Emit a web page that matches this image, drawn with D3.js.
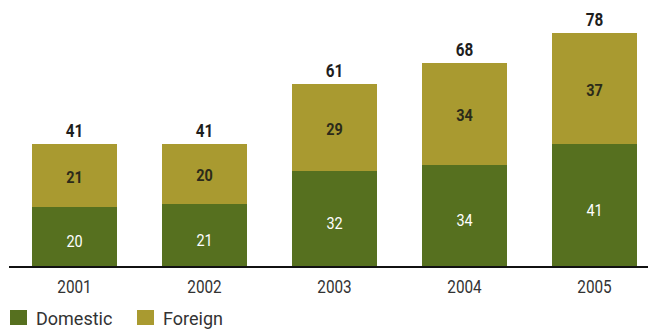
<!DOCTYPE html>
<html>
<head>
<meta charset="utf-8">
<script src="https://cdn.jsdelivr.net/npm/d3@7"></script>
<style>
    body { margin: 0; background: #fff; }
    svg text { font-family: Roboto, "Liberation Sans", sans-serif; }
</style>
</head>
<body>
<svg id="chart" width="648" height="329"></svg>
<script>
// data
var years = ["2001", "2002", "2003", "2004", "2005"];
var domestic = [20, 21, 32, 34, 41];
var foreign = [21, 20, 29, 34, 37];
var seriesNames = ["Domestic", "Foreign"];
var seriesColors = ["#56701f", "#a99a30"];

var svg = d3.select("#chart");
var baseY = 267;
var squeeze = 0.85; // condensed look for the numbers

var rows = years.map(function (y, i) {
    return {year: y, Domestic: domestic[i], Foreign: foreign[i]};
});

var xScale = d3.scaleBand()
    .domain(years)
    .range([32, 637])
    .paddingInner(45 / 130)
    .paddingOuter(0);

var yScale = d3.scaleLinear()
    .domain([0, 89])
    .range([baseY, 0]);

function mid(year) {
    return xScale(year) + xScale.bandwidth() / 2;
}

var stack = d3.stack().keys(seriesNames);
var layers = stack(rows);

// bars
svg.selectAll("g.layer")
    .data(layers)
    .enter()
    .append("g")
    .attr("class", "layer")
    .attr("fill", function (d, i) { return seriesColors[i]; })
    .selectAll("rect")
    .data(function (d) { return d; })
    .enter()
    .append("rect")
    .attr("x", function (d) { return xScale(d.data.year); })
    .attr("width", xScale.bandwidth())
    .attr("y", function (d) { return yScale(d[1]); })
    .attr("height", function (d) { return yScale(d[0]) - yScale(d[1]); });

// labels inside the segments (domestic sits a little low in the original)
layers.forEach(function (layer, li) {
    svg.selectAll("text.seg" + li)
        .data(layer)
        .enter()
        .append("text")
        .attr("class", "seg" + li)
        .attr("transform", function (d) {
            var y = (yScale(d[0]) + yScale(d[1])) / 2 + (li === 0 ? 10 : 7);
            return "translate(" + mid(d.data.year) + "," + y + ") scale(" + squeeze + ",1)";
        })
        .attr("text-anchor", "middle")
        .attr("font-size", 17)
        .attr("font-weight", li === 1 ? "bold" : "normal")
        .attr("fill", li === 0 ? "#ffffff" : "#2b2a1a")
        .text(function (d) { return d[1] - d[0]; });
});

// totals on top
svg.selectAll("text.total")
    .data(rows)
    .enter()
    .append("text")
    .attr("class", "total")
    .attr("transform", function (d) {
        var y = yScale(d.Domestic + d.Foreign) - 7;
        return "translate(" + mid(d.year) + "," + y + ") scale(" + squeeze + ",1)";
    })
    .attr("text-anchor", "middle")
    .attr("font-size", 18)
    .attr("font-weight", "bold")
    .attr("fill", "#1e1e1e")
    .text(function (d) { return d.Domestic + d.Foreign; });

// baseline + year labels
var xAxis = d3.axisBottom(xScale).tickSize(0).tickPadding(13);
var axisG = svg.append("g")
    .attr("transform", "translate(0," + baseY + ")")
    .call(xAxis);
axisG.select(".domain").remove();
axisG.append("line")
    .attr("x1", 9).attr("x2", 648)
    .attr("stroke", "#111").attr("stroke-width", 2);
axisG.selectAll(".tick text")
    .attr("font-size", 18)
    .attr("fill", "#333")
    .attr("transform", "scale(" + squeeze + ",1)")
    .style("font-family", "Roboto, 'Liberation Sans', sans-serif");

// legend
var legend = svg.selectAll("g.legend")
    .data(seriesNames)
    .enter()
    .append("g")
    .attr("class", "legend")
    .attr("transform", function (d, i) { return "translate(" + (10 + i * 127) + ",310)"; });

legend.append("rect")
    .attr("width", 17)
    .attr("height", 15)
    .attr("fill", function (d, i) { return seriesColors[i]; });

legend.append("text")
    .attr("x", 26)
    .attr("y", 15)
    .attr("font-size", 18)
    .attr("fill", "#333")
    .text(function (d) { return d; });
</script>
</body>
</html>
